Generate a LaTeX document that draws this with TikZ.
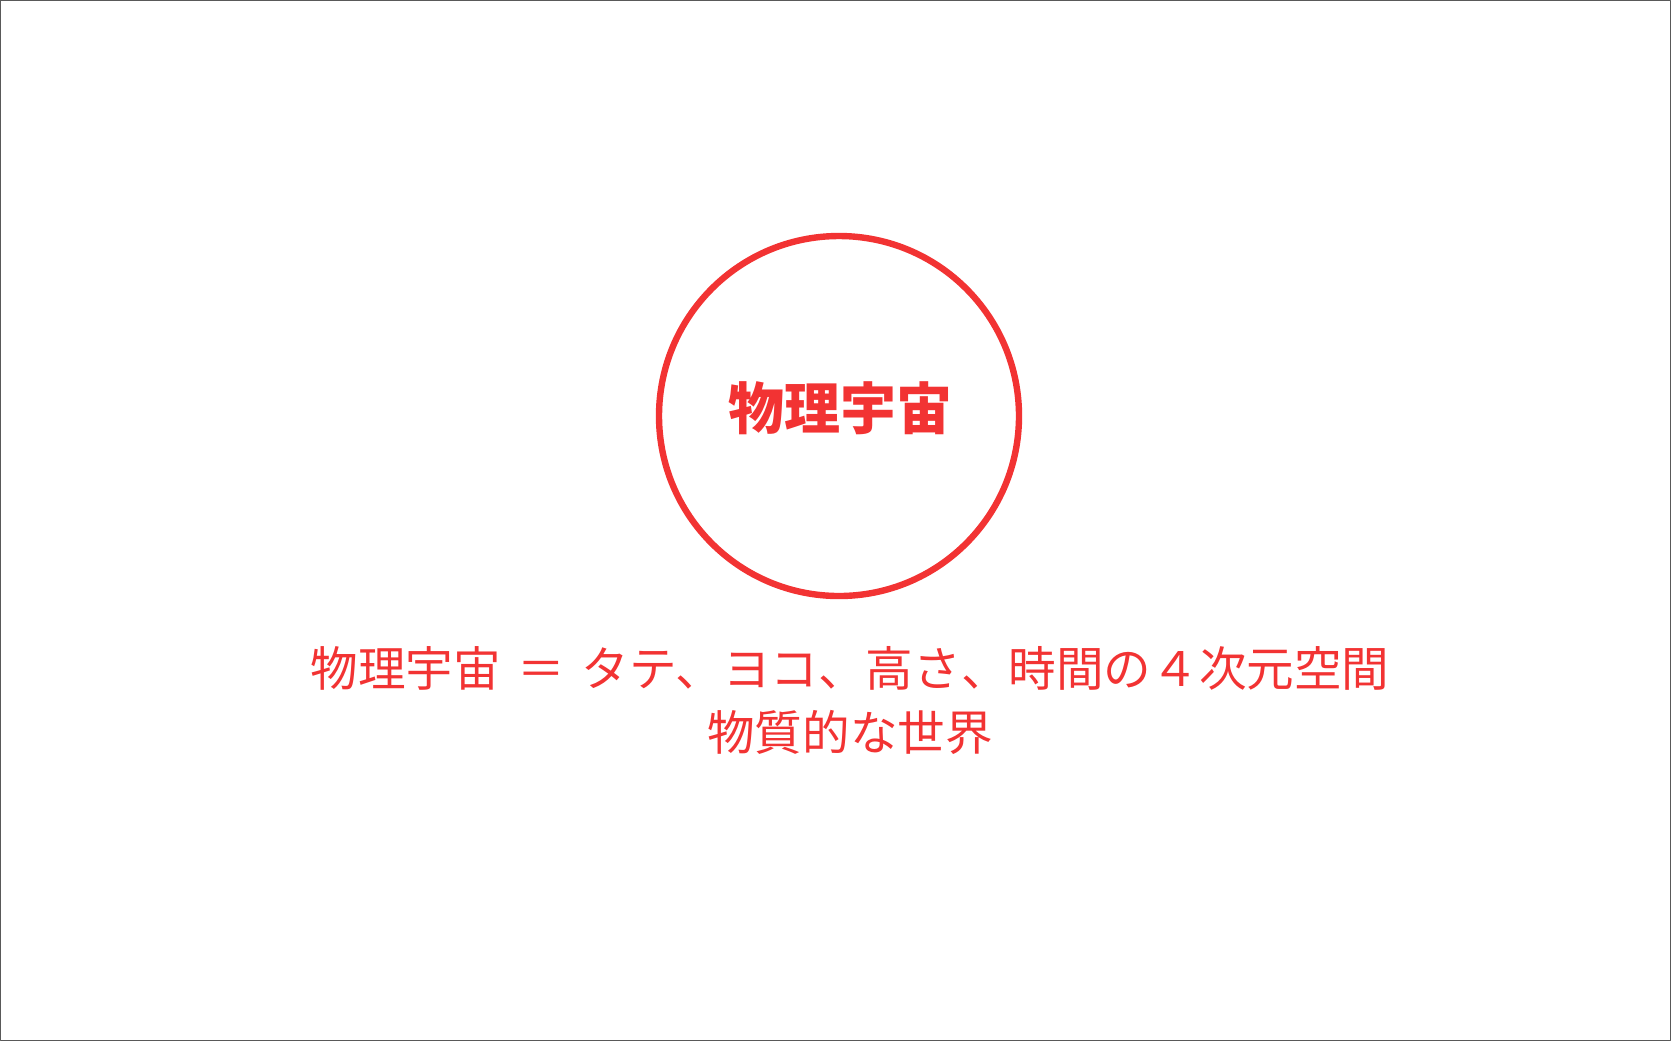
\documentclass[tikz,border=0pt]{standalone}
\usepackage{fontspec}
\newfontfamily\jpfont{Noto Sans CJK JP}
\definecolor{uired}{RGB}{242,51,51}
\begin{document}
\begin{tikzpicture}[x=0.5pt,y=-0.5pt,line join=round, line cap=round]

		\tikzset{ring style/.style={circle,draw=uired,line width=3.2pt,minimum size=360*0.5pt,inner sep=0pt},
			label style/.style={text=uired,font=\jpfont\fontsize{23.8pt}{32pt}\selectfont,align=center}}

		\useasboundingbox (0,0) rectangle (1671,1041);
		\draw[gray!70!black,line width=0.5pt] (0.5,0.5) rectangle (1670.5,1040.5);
		\node[ring style] (universe) at (839,416) {};
		\node[text=uired,font=\jpfont\bfseries\fontsize{28pt}{34pt}\selectfont] (title) at (840,408) {物理宇宙};
		\node[label style] (def) at (850,701) {物理宇宙\hspace{0.35em}＝\hspace{0.35em}タテ、ヨコ、高さ、時間の４次元空間\\物質的な世界};
		\end{tikzpicture}
\end{document}
